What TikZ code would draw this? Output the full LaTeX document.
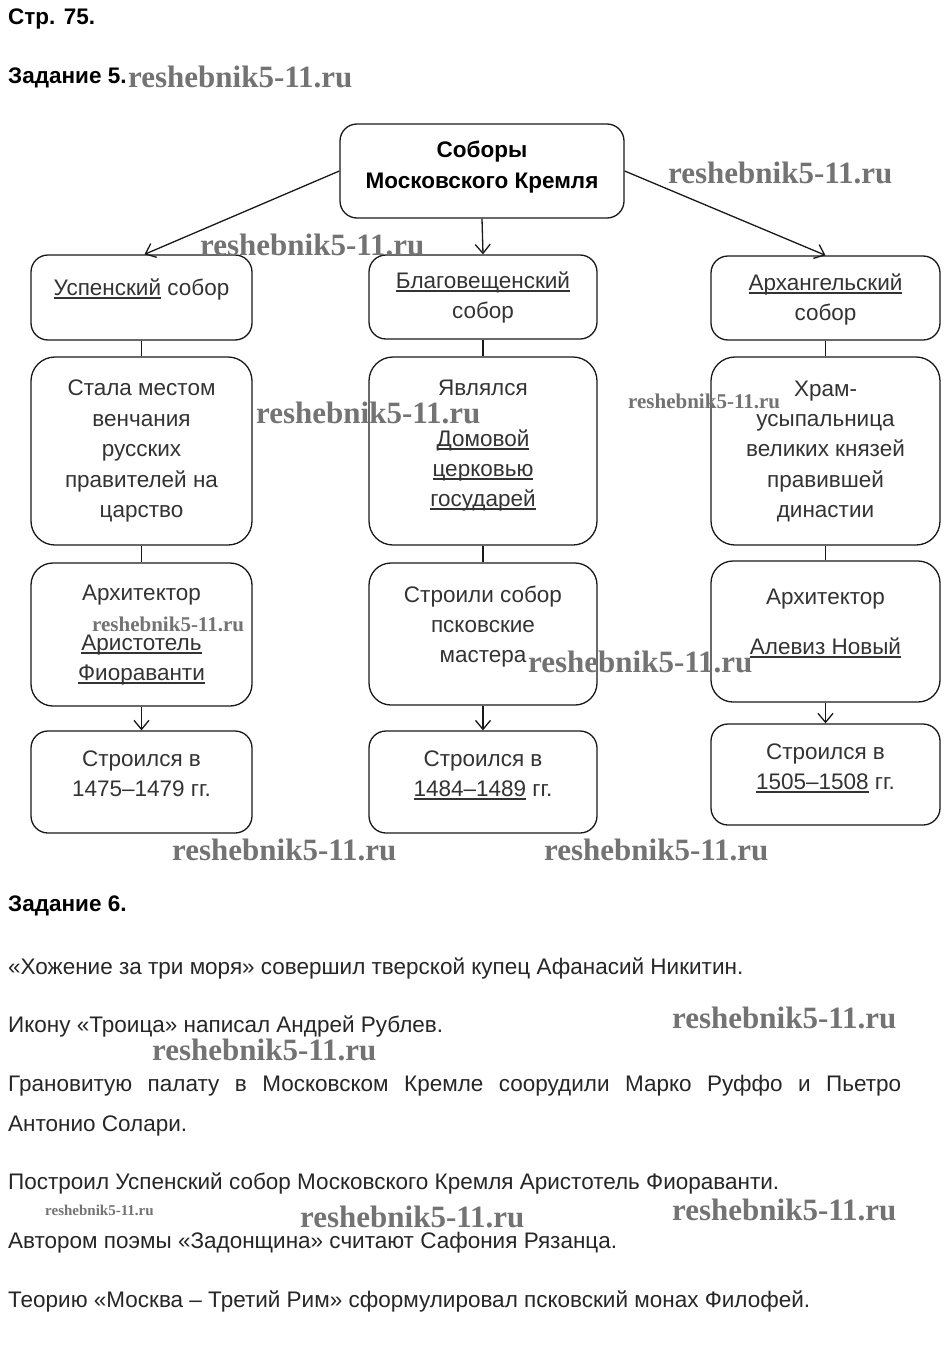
\documentclass[tikz,border=0pt]{standalone}
\usepackage{fontspec}
\setmainfont{Liberation Sans}
\newfontfamily\wmfont{Liberation Serif}
\newcommand\myul[1]{\setbox0\hbox{#1}\rlap{\rule[-3.5pt]{\wd0}{1.1pt}}\box0\relax}
\usetikzlibrary{arrows.meta}
\tikzset{
  box/.style={draw=black!90, line width=1.3pt, rounded corners=17pt, inner sep=0pt},
  arr/.style={draw=black!90, line width=1.3pt, -{Straight Barb[length=9pt,width=15pt,line width=1.3pt]}},
  con/.style={draw=black!90, line width=1.3pt},
  tx/.style={anchor=base, inner sep=0pt, text=black!80, font=\fontsize{22.5}{30}\selectfont},
  hd/.style={anchor=base west, inner sep=0pt, text=black, font=\fontsize{22.5}{30}\selectfont\bfseries},
  para/.style={anchor=base west, inner sep=0pt, text=black!85, font=\fontsize{22.5}{30}\selectfont},
  wm/.style={anchor=west, inner sep=0pt, text=black!55, font=\fontsize{31}{31}\wmfont\bfseries},
  wms/.style={anchor=west, inner sep=0pt, text=black!55, font=\fontsize{21}{21}\wmfont\bfseries},
  wmt/.style={anchor=west, inner sep=0pt, text=black!55, font=\fontsize{15}{15}\wmfont\bfseries},
}
\begin{document}
\begin{tikzpicture}[x=1pt,y=-1pt]
\useasboundingbox (0,0) rectangle (950,1354);
\fill[white] (0,0) rectangle (950,1354);

% headings
\node[hd] (h1) at (8,25) {Стр. 75.};
\node[hd] (h2) at (8,84) {Задание 5.};

% boxes
\node[box, minimum width=284pt, minimum height=94pt] (top) at (482,171) {};
\node[box, minimum width=221pt, minimum height=85pt] (b1) at (141.5,297.5) {};
\node[box, minimum width=228pt, minimum height=84pt] (b2) at (483,297) {};
\node[box, minimum width=229pt, minimum height=84pt] (b3) at (825.5,298) {};
\node[box, rounded corners=24pt, minimum width=221pt, minimum height=188pt] (m1) at (141.5,451) {};
\node[box, rounded corners=24pt, minimum width=228pt, minimum height=188pt] (m2) at (483,451) {};
\node[box, rounded corners=24pt, minimum width=229pt, minimum height=188pt] (m3) at (825.5,451) {};
\node[box, rounded corners=22pt, minimum width=221pt, minimum height=143pt] (a1) at (141.5,634.5) {};
\node[box, rounded corners=22pt, minimum width=228pt, minimum height=142pt] (a2) at (483,634) {};
\node[box, rounded corners=22pt, minimum width=229pt, minimum height=141pt] (a3) at (825.5,631.5) {};
\node[box, minimum width=221pt, minimum height=102pt] (y1) at (141.5,782) {};
\node[box, minimum width=228pt, minimum height=102pt] (y2) at (483,782) {};
\node[box, minimum width=229pt, minimum height=101pt] (y3) at (825.5,774.5) {};

% connectors
\draw[arr] (top.west) -- ([xshift=3pt]b1.north);
\draw[arr] (top.south) -- (b2.north);
\draw[arr] (top.east) -- (b3.north);
\draw[con] (b1.south) -- (m1.north);
\draw[con] (b2.south) -- (m2.north);
\draw[con] (b3.south) -- (m3.north);
\draw[con] (m1.south) -- (a1.north);
\draw[con] (m2.south) -- (a2.north);
\draw[con] (m3.south) -- (a3.north);
\draw[arr] (a1.south) -- (y1.north);
\draw[arr] (a2.south) -- (y2.north);
\draw[arr] (a3.south) -- (y3.north);

% texts in boxes
\node[tx, text=black, font=\fontsize{22.5}{30}\selectfont\bfseries] (t1) at (482,157) {Соборы};
\node[tx, text=black, font=\fontsize{22.5}{30}\selectfont\bfseries] (t2) at (482,188) {Московского Кремля};

\node[tx] (b1a) at (141.5,295) {\myul{Успенский} собор};
\node[tx] (b2a) at (483,288) {\myul{Благовещенский}};
\node[tx] (b2b) at (483,318) {собор};
\node[tx] (b3a) at (825.5,290) {\myul{Архангельский}};
\node[tx] (b3b) at (825.5,320) {собор};

\node[tx] (m1a) at (141.5,395) {Стала местом};
\node[tx] (m1b) at (141.5,426) {венчания};
\node[tx] (m1c) at (141.5,456) {русских};
\node[tx] (m1d) at (141.5,487) {правителей на};
\node[tx] (m1e) at (141.5,517) {царство};

\node[tx] (m2a) at (483,395) {Являлся};
\node[tx] (m2b) at (483,446) {\myul{Домовой}};
\node[tx] (m2c) at (483,476) {\myul{церковью}};
\node[tx] (m2d) at (483,506) {\myul{государей}};

\node[tx] (m3a) at (825.5,396) {Храм-};
\node[tx] (m3b) at (825.5,426) {усыпальница};
\node[tx] (m3c) at (825.5,456) {великих князей};
\node[tx] (m3d) at (825.5,487) {правившей};
\node[tx] (m3e) at (825.5,517) {династии};

\node[tx] (a1a) at (141.5,600) {Архитектор};
\node[tx] (a1b) at (141.5,650) {\myul{Аристотель}};
\node[tx] (a1c) at (141.5,680) {\myul{Фиораванти}};

\node[tx] (a2a) at (483,602) {Строили собор};
\node[tx] (a2b) at (483,632) {псковские};
\node[tx] (a2c) at (483,662) {мастера};

\node[tx] (a3a) at (825.5,604) {Архитектор};
\node[tx] (a3b) at (825.5,654) {\myul{Алевиз Новый}};

\node[tx] (y1a) at (141.5,766) {Строился в};
\node[tx] (y1b) at (141.5,796) {1475–1479 гг.};
\node[tx] (y2a) at (483,766) {Строился в};
\node[tx] (y2b) at (483,796) {\myul{1484–1489} гг.};
\node[tx] (y3a) at (825.5,759) {Строился в};
\node[tx] (y3b) at (825.5,789) {\myul{1505–1508} гг.};

% task 6
\node[hd] (h3) at (8,911) {Задание 6.};
\node[para] (p1) at (8,974) {«Хожение за три моря» совершил тверской купец Афанасий Никитин.};
\node[para] (p2) at (8,1032) {Икону «Троица» написал Андрей Рублев.};
\node[para] (p3) at (8,1091) {\makebox[893pt][s]{Грановитую палату в Московском Кремле соорудили Марко Руффо и Пьетро}};
\node[para] (p4) at (8,1131) {Антонио Солари.};
\node[para] (p5) at (8,1189) {Построил Успенский собор Московского Кремля Аристотель Фиораванти.};
\node[para] (p6) at (8,1248) {Автором поэмы «Задонщина» считают Сафония Рязанца.};
\node[para] (p7) at (8,1307) {Теорию «Москва – Третий Рим» сформулировал псковский монах Филофей.};

% watermarks
\node[wm] (w1) at (128,77) {reshebnik5-11.ru};
\node[wm] (w2) at (668,173) {reshebnik5-11.ru};
\node[wm] (w3) at (200,245) {reshebnik5-11.ru};
\node[wm] (w4) at (256,413) {reshebnik5-11.ru};
\node[wms] (w5) at (628,401) {reshebnik5-11.ru};
\node[wms] (w6) at (92,624) {reshebnik5-11.ru};
\node[wm] (w7) at (528,662) {reshebnik5-11.ru};
\node[wm] (w8) at (172,850) {reshebnik5-11.ru};
\node[wm] (w9) at (544,850) {reshebnik5-11.ru};
\node[wm] (w10) at (672,1018) {reshebnik5-11.ru};
\node[wm] (w11) at (152,1050) {reshebnik5-11.ru};
\node[wmt] (w12) at (45,1210) {reshebnik5-11.ru};
\node[wm] (w13) at (300,1217) {reshebnik5-11.ru};
\node[wm] (w14) at (672,1210) {reshebnik5-11.ru};
\end{tikzpicture}
\end{document}
